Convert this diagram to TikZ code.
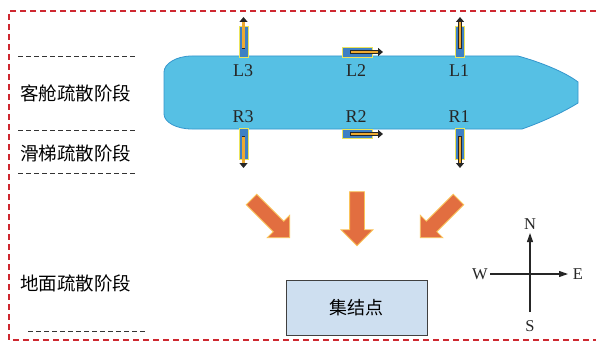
\documentclass[tikz,border=0pt]{standalone}
\usepackage{fontspec}
\setmainfont{Liberation Serif}
\newfontfamily\cjk{Noto Sans CJK SC}
\usepackage{tikz}
\usetikzlibrary{shapes,arrows.meta,calc,positioning}
\definecolor{cabinblue}{RGB}{86,192,228}
\definecolor{cabinrim}{RGB}{52,150,205}
\definecolor{doorblue}{RGB}{62,128,196}
\definecolor{doorrim}{RGB}{236,228,90}
\definecolor{arrowgold}{RGB}{236,170,50}
\definecolor{floworange}{RGB}{226,110,64}
\definecolor{flowrim}{RGB}{250,196,90}
\definecolor{borderred}{RGB}{206,40,48}
\definecolor{rallyblue}{RGB}{206,223,240}
\tikzset{slide door/.style={draw=doorrim, fill=doorblue, rectangle, line width=0.8pt, inner sep=0pt}}
\tikzset{flow arrow/.style={single arrow, draw=flowrim, fill=floworange, line width=0.8pt, minimum height=54pt, minimum width=31pt, single arrow head extend=8.5pt, single arrow tip angle=90, inner xsep=0pt, inner ysep=7pt}}
\tikzset{phase line/.style={draw=black!80, dash pattern=on 4.5pt off 3.5pt, line width=0.8pt}}
\tikzset{phase label/.style={font=\cjk\fontsize{18.5}{18.5}\selectfont, anchor=west, inner sep=0pt}}
\tikzset{door label/.style={font=\fontsize{18}{18}\selectfont, inner sep=0pt, text=black!85}}
\tikzset{compass label/.style={font=\fontsize{16.5}{16.5}\selectfont, inner sep=0pt, text=black!85}}
\newcommand{\slidearrow}[2]{%
  \draw[line width=3.8pt, black!85, -{Triangle[length=5pt,width=8pt]}] (#1) -- (#2);
  \draw[line width=2.4pt, arrowgold, shorten >=5pt, shorten <=0.7pt] (#1) -- (#2);}

\begin{document}
\begin{tikzpicture}[x=1pt, y=-1pt]
\useasboundingbox (0,0) rectangle (596,342);
% outer frame
\draw[borderred, dash pattern=on 6pt off 4pt, line width=1.1pt] (596,11) -- (9,11) -- (9,340) -- (596,340);

% phases
\draw[phase line] (18,56) -- (138,56);
\node[phase label] (cabin phase) at (20,93) {客舱疏散阶段};
\draw[phase line] (18,130) -- (138,130);
\node[phase label] (slide phase) at (20,153) {滑梯疏散阶段};
\draw[phase line] (18,173) -- (138,173);
\node[phase label] (ground phase) at (20,283) {地面疏散阶段};
\draw[phase line] (28,331) -- (148,331);

% aircraft
\draw[cabinrim, fill=cabinblue, line width=0.8pt] (192,56) -- (518,56)
  .. controls (540,62) and (565,72) .. (578,82) -- (578,103)
  .. controls (565,111) and (545,121) .. (522,129) -- (192,129)
  .. controls (176,129) and (164,122) .. (164,114) -- (164,72)
  .. controls (164,64) and (176,56) .. (192,56) -- cycle;

% doors
\node[slide door, minimum width=9pt, minimum height=31pt] (l3) at (243.5,41.5) {};
\node[slide door, minimum width=30pt, minimum height=10pt] (l2) at (357,52) {};
\node[slide door, minimum width=9pt, minimum height=31pt] (l1) at (460,41.5) {};
\node[slide door, minimum width=9pt, minimum height=31pt] (r3) at (243.5,143.5) {};
\node[slide door, minimum width=30pt, minimum height=9pt] (r2) at (357,133.5) {};
\node[slide door, minimum width=9pt, minimum height=31pt] (r1) at (460,143.5) {};
\node[door label] (l3 text) at (243,71) {L3};
\node[door label] (l2 text) at (356,71) {L2};
\node[door label] (l1 text) at (459,71) {L1};
\node[door label] (r3 text) at (243,117) {R3};
\node[door label] (r2 text) at (356,117) {R2};
\node[door label] (r1 text) at (459,117) {R1};

% slide directions
\coordinate (l3 end) at (243.5,17);
\coordinate (l1 end) at (460,17);
\coordinate (l2 end) at (383,52);
\coordinate (r3 end) at (243.5,168);
\coordinate (r1 end) at (460,168);
\coordinate (r2 end) at (383,134);
\slidearrow{243.5,49}{l3 end}
\slidearrow{460,49}{l1 end}
\slidearrow{350,52}{l2 end}
\slidearrow{243.5,136}{r3 end}
\slidearrow{460,136}{r1 end}
\slidearrow{350,134}{r2 end}

% flow to the rally point
\node[flow arrow, rotate=-45] (flow left) at (268,216) {};
\node[flow arrow, rotate=-90] (flow mid) at (357,215) {};
\node[flow arrow, rotate=-135] (flow right) at (442,216) {};
\node[draw=black!75, fill=rallyblue, line width=0.9pt, minimum width=141pt, minimum height=55pt, font=\cjk\fontsize{18}{18}\selectfont] (rally) at (356.5,307.5) {集结点};

% compass
\node[compass label] (north) at (530,224) {N};
\node[compass label] (south) at (530,326) {S};
\node[compass label] (west) at (480,274) {W};
\node[compass label] (east) at (578,274) {E};
\coordinate (c south) at (530,312);
\coordinate (c north) at (530,233);
\coordinate (c west) at (490,274);
\coordinate (c east) at (568,274);
\draw[line width=1.1pt, black!85, -{Triangle[length=9pt,width=6pt]}] (c south) -- (c north);
\draw[line width=1.1pt, black!85, -{Triangle[length=9pt,width=6pt]}] (c west) -- (c east);
\end{tikzpicture}
\end{document}
